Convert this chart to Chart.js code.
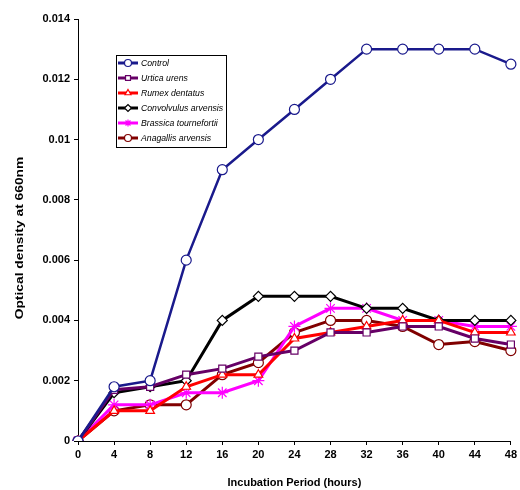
<!DOCTYPE html>
<html>
<head>
<meta charset="utf-8">
<script src="https://cdn.jsdelivr.net/npm/chart.js@4"></script>
<style>
  html, body { margin: 0; padding: 0; background: #fff; }
  #wrap { width: 520px; height: 490px; }
</style>
</head>
<body>
<div id="wrap"><canvas id="growthChart" width="520" height="490"></canvas></div>
<script>
// incubation times (hours)
const hours = ["0", "4", "8", "12", "16", "20", "24", "28", "32", "36", "40", "44", "48"];

// optical density readings per extract
const control     = [0, 0.0018, 0.002, 0.006, 0.009, 0.01, 0.011, 0.012, 0.013, 0.013, 0.013, 0.013, 0.0125];
const urtica      = [0, 0.0017, 0.0018, 0.0022, 0.0024, 0.0028, 0.003, 0.0036, 0.0036, 0.0038, 0.0038, 0.0034, 0.0032];
const rumex       = [0, 0.001, 0.001, 0.0018, 0.0022, 0.0022, 0.0034, 0.0036, 0.0038, 0.004, 0.004, 0.0036, 0.0036];
const convolvulus = [0, 0.0016, 0.0018, 0.002, 0.004, 0.0048, 0.0048, 0.0048, 0.0044, 0.0044, 0.004, 0.004, 0.004];
const brassica    = [0, 0.0012, 0.0012, 0.0016, 0.0016, 0.002, 0.0038, 0.0044, 0.0044, 0.004, 0.004, 0.0038, 0.0038];
const anagallis   = [0, 0.001, 0.0012, 0.0012, 0.0022, 0.0026, 0.0036, 0.004, 0.004, 0.0038, 0.0032, 0.0033, 0.003];

const seriesNames = ["Control", "Urtica urens", "Rumex dentatus", "Convolvulus arvensis", "Brassica tournefortii", "Anagallis arvensis"];
const yTitle = "Optical density at 660nm";

function makeSet(label, data, color, style, width) {
    return {
        label: label,
        data: data,
        borderColor: color,
        backgroundColor: "#fff",
        pointBorderColor: color,
        pointBackgroundColor: "#fff",
        pointStyle: style,
        pointRadius: style === "star" ? 6 : 5,
        pointBorderWidth: 1.2,
        borderWidth: width,
        tension: 0
    };
}

// boxed legend inside the plot + the stretched y title
const extras = {
    id: "extras",
    afterDraw(chart) {
        const c = chart.ctx;
        c.save();
        // y title, drawn a bit stretched like the original figure
        c.translate(20, (chart.chartArea.top + chart.chartArea.bottom) / 2 + 8);
        c.rotate(-Math.PI / 2);
        c.scale(1.2, 1);
        c.font = "bold 11.5px 'Liberation Sans', Arial, sans-serif";
        c.fillStyle = "#000";
        c.textAlign = "center";
        c.textBaseline = "middle";
        c.fillText(yTitle, 0, 0);
        c.restore();

        c.save();
        const x0 = 116, y0 = 55, w = 110, h = 92;
        c.fillStyle = "#fff";
        c.fillRect(x0, y0, w, h);
        c.strokeStyle = "#000";
        c.lineWidth = 1;
        c.strokeRect(x0 + 0.5, y0 + 0.5, w, h);
        c.font = "italic 8.7px 'Liberation Sans', Arial, sans-serif";
        c.textBaseline = "middle";
        chart.data.datasets.forEach((ds, i) => {
            const y = y0 + 8 + i * 15;
            c.strokeStyle = ds.borderColor;
            c.lineWidth = 3;
            c.beginPath();
            c.moveTo(x0 + 2, y);
            c.lineTo(x0 + 22, y);
            c.stroke();
            c.fillStyle = "#fff";
            c.strokeStyle = ds.borderColor;
            c.lineWidth = 1.2;
            Chart.helpers.drawPoint(c, { pointStyle: ds.pointStyle, radius: 3.5, borderWidth: 1.2, rotation: 0 }, x0 + 12, y);
            c.fillStyle = "#000";
            c.fillText(ds.label, x0 + 25, y + 0.5);
        });
        c.restore();
    }
};

const ctx = document.getElementById("growthChart").getContext("2d");
new Chart(ctx, {
    type: "line",
    data: {
        labels: hours,
        datasets: [
            makeSet(seriesNames[0], control, "#1a1a8c", "circle", 2.5),
            makeSet(seriesNames[1], urtica, "#660066", "rect", 3),
            makeSet(seriesNames[2], rumex, "#ff0000", "triangle", 3),
            makeSet(seriesNames[3], convolvulus, "#000000", "rectRot", 3),
            makeSet(seriesNames[4], brassica, "#ff00ff", "star", 3),
            makeSet(seriesNames[5], anagallis, "#800000", "circle", 3)
        ]
    },
    options: {
        responsive: false,
        animation: false,
        layout: { padding: { top: 19, right: 7, left: 30, bottom: 0 } },
        plugins: {
            legend: { display: false },
            tooltip: { enabled: false }
        },
        scales: {
            x: {
                offset: false,
                grid: { drawOnChartArea: false, color: "#000", tickLength: 4 },
                border: { color: "#000", width: 1 },
                ticks: {
                    color: "#000",
                    maxRotation: 0,
                    autoSkip: false,
                    font: { family: "'Liberation Sans', Arial", size: 11, weight: "bold" }
                },
                title: {
                    display: true,
                    text: "Incubation Period (hours)",
                    color: "#000",
                    font: { family: "'Liberation Sans', Arial", size: 11, weight: "bold" },
                    padding: { top: 7, bottom: 0 }
                },
                afterFit(scale) { scale.height = 49; }
            },
            y: {
                min: 0,
                max: 0.014,
                ticks: {
                    stepSize: 0.002,
                    color: "#000",
                    padding: 4,
                    font: { family: "'Liberation Sans', Arial", size: 11, weight: "bold" },
                    callback: v => String(+v.toFixed(3))
                },
                grid: { drawOnChartArea: false, color: "#000", tickLength: 4 },
                border: { color: "#000", width: 1 },
                afterFit(scale) { scale.width = 48; }
            }
        }
    },
    plugins: [extras]
});
</script>
</body>
</html>
